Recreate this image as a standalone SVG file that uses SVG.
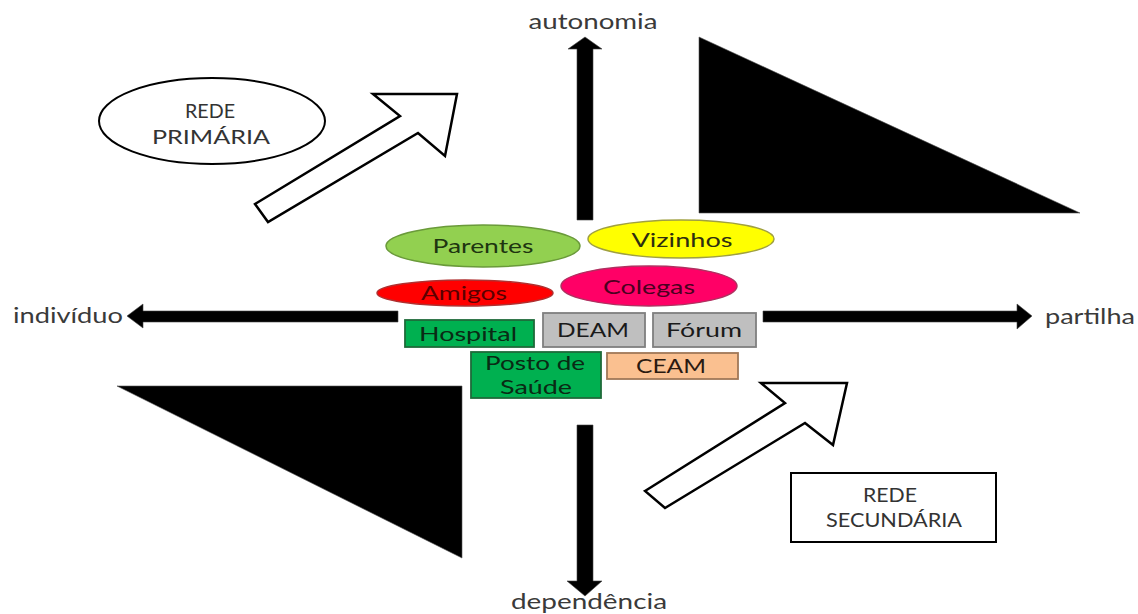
<svg xmlns="http://www.w3.org/2000/svg" width="1138" height="614" viewBox="0 0 1138 614">
  <style>
    text { font-family: Lato, "Open Sans", "Liberation Sans", sans-serif; text-anchor: middle; }
    .axis { font-size: 21px; fill: #3a3a3a; }
    .lbl { font-size: 20px; }
    .net { font-size: 19px; fill: #333; }
    .wedge { fill: #000; stroke: #555; stroke-width: 0.6; }
    .bar { fill: #000; stroke: #444; stroke-width: 0.6; }
    .hollow { fill: #fff; stroke: #000; stroke-width: 2.5; stroke-linejoin: miter; }
    .box { stroke-width: 1.8; }
  </style>

  <rect width="1138" height="614" fill="#fff"/>

  <!-- shaded quadrant wedges -->
  <g id="wedge-top-right"><polygon class="wedge" points="699,37 699,213 1080,213"/></g>
  <g id="wedge-bottom-left"><polygon class="wedge" points="117,386 462,386 462,558"/></g>

  <!-- axes and direction arrows -->
  <g id="connectors">
    <polygon class="bar" points="577,220 577,49 568,49 585,37 602,49 593,49 593,220"/>
    <polygon class="bar" points="577,425 593,425 593,581 602,581 585,596 567,581 577,581"/>
    <polygon class="bar" points="398,311 398,322 143,322 143,328 127,316 143,304 143,311"/>
    <polygon class="bar" points="763,311 1017,311 1017,304 1032,316 1017,329 1017,322 763,322"/>
    <polygon class="hollow" points="255,204 400,116 373,94 457,94 445,156 418,133 268,222"/>
    <polygon class="hollow" points="645,491 785,403 761,383 847,383 833,445 805,423 665,508"/>
  </g>

  <!-- axis labels -->
  <g id="axis-labels">
    <text class="axis" x="593" y="29" textLength="129" lengthAdjust="spacingAndGlyphs">autonomia</text>
    <text class="axis" x="589" y="609" textLength="156" lengthAdjust="spacingAndGlyphs">dependência</text>
    <text class="axis" x="68" y="323" textLength="110" lengthAdjust="spacingAndGlyphs">indivíduo</text>
    <text class="axis" x="1090" y="324" textLength="90" lengthAdjust="spacingAndGlyphs">partilha</text>
  </g>

  <!-- network captions -->
  <g id="rede-primaria">
    <ellipse cx="212" cy="121" rx="113" ry="43" fill="#fff" stroke="#000" stroke-width="2"/>
    <text class="net" x="210" y="118" textLength="50" lengthAdjust="spacingAndGlyphs">REDE</text>
    <text class="net" x="211" y="144" textLength="118" lengthAdjust="spacingAndGlyphs">PRIMÁRIA</text>
  </g>
  <g id="rede-secundaria">
    <rect x="791" y="473" width="205" height="69" fill="#fff" stroke="#000" stroke-width="2"/>
    <text class="net" x="890" y="502" textLength="54" lengthAdjust="spacingAndGlyphs">REDE</text>
    <text class="net" x="894" y="527" textLength="136" lengthAdjust="spacingAndGlyphs">SECUNDÁRIA</text>
  </g>

  <!-- primary network members -->
  <g id="parentes">
    <ellipse cx="483" cy="246" rx="97" ry="21" fill="#92d050" stroke="#6a9a3a" stroke-width="1.5"/>
    <text class="lbl" x="483" y="253" fill="#1e3510" textLength="101" lengthAdjust="spacingAndGlyphs">Parentes</text>
  </g>
  <g id="vizinhos">
    <ellipse cx="681" cy="239" rx="93" ry="19" fill="#ffff00" stroke="#a0a040" stroke-width="1.5"/>
    <text class="lbl" x="682" y="247" fill="#2e2e10" textLength="101" lengthAdjust="spacingAndGlyphs">Vizinhos</text>
  </g>
  <g id="amigos">
    <ellipse cx="465" cy="293" rx="88" ry="13" fill="#ff0000" stroke="#b03030" stroke-width="1.5"/>
    <text class="lbl" x="464" y="300" fill="#5a0000" textLength="86" lengthAdjust="spacingAndGlyphs">Amigos</text>
  </g>
  <g id="colegas">
    <ellipse cx="649" cy="286" rx="88" ry="20" fill="#ff0066" stroke="#b03060" stroke-width="1.5"/>
    <text class="lbl" x="649" y="294" fill="#4a0020" textLength="92" lengthAdjust="spacingAndGlyphs">Colegas</text>
  </g>

  <!-- secondary network services -->
  <g id="hospital">
    <rect class="box" x="405" y="320" width="129" height="27" fill="#00b050" stroke="#1e6b3a"/>
    <text class="lbl" x="468" y="341" fill="#0a2a14" textLength="98" lengthAdjust="spacingAndGlyphs">Hospital</text>
  </g>
  <g id="deam">
    <rect class="box" x="543" y="313" width="102" height="34" fill="#bfbfbf" stroke="#7f7f7f"/>
    <text class="lbl" x="593" y="337" fill="#1a1a1a" textLength="72" lengthAdjust="spacingAndGlyphs">DEAM</text>
  </g>
  <g id="forum">
    <rect class="box" x="653" y="313" width="103" height="34" fill="#bfbfbf" stroke="#7f7f7f"/>
    <text class="lbl" x="704" y="337" fill="#1a1a1a" textLength="76" lengthAdjust="spacingAndGlyphs">Fórum</text>
  </g>
  <g id="posto-de-saude">
    <rect class="box" x="471" y="352" width="130" height="46" fill="#00b050" stroke="#1e6b3a"/>
    <text class="lbl" x="535" y="370" fill="#0a2a14" textLength="100" lengthAdjust="spacingAndGlyphs">Posto de</text>
    <text class="lbl" x="536" y="394" fill="#0a2a14" textLength="72" lengthAdjust="spacingAndGlyphs">Saúde</text>
  </g>
  <g id="ceam">
    <rect class="box" x="607" y="353" width="131" height="26" fill="#fac090" stroke="#a07858"/>
    <text class="lbl" x="671" y="373" fill="#2a1a10" textLength="70" lengthAdjust="spacingAndGlyphs">CEAM</text>
  </g>
</svg>
